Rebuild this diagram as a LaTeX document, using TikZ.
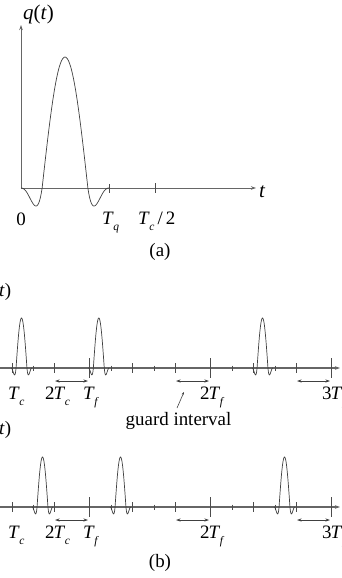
\documentclass[tikz,border=0pt]{standalone}
\usepackage{fontspec}
\setmainfont{Liberation Serif}
\usetikzlibrary{arrows.meta}
\newcommand\Tlab[2]{\textit{#1}\kern-0.5pt\raisebox{-0.35em}{\fontsize{11.5}{12}\selectfont\textit{#2}}}
% #1 centre x, #2 half width, #3 baseline y, #4 height
\newcommand\pulseshape[4]{%
  \draw[pulseline]
    plot[domain=0.001:1,samples=25,smooth] ({#1-#2*(0.52+0.48*(1-\x))},{#3+#4*1.1*(1-\x)*(\x)^2.45})
    -- plot[domain=-0.52:0.52,samples=41,smooth] ({#1+#2*\x},{#3-#4*cos(173.08*\x)})
    -- plot[domain=0:0.999,samples=25,smooth] ({#1+#2*(0.52+0.48*\x)},{#3+#4*1.1*\x*(1-\x)^2.45});}
\begin{document}
\begin{tikzpicture}[x=1bp,y=-1bp,
  pulseline/.style={draw=black!75, line width=0.7bp},
  axisline/.style={draw=black!60, line width=0.9bp, -{Stealth[length=5bp,width=3.5bp]}},
  tickline/.style={draw=black!70, line width=0.7bp},
  guardarrow/.style={draw=black!75, line width=0.7bp, {Stealth[length=4.5bp,width=3bp]}-{Stealth[length=4.5bp,width=3bp]}},
  txt/.style={font=\fontsize{19}{22}\selectfont, inner sep=0pt, text=black},
  bigtxt/.style={font=\fontsize{21}{24}\selectfont, inner sep=0pt, text=black}]
\useasboundingbox (0,0) rectangle (341,578);
% ---------- (a) ----------
\coordinate (aO) at (21,188);
\coordinate (aY) at (21,25);
\coordinate (aX) at (256,188);
\draw[axisline] (aO) -- (aY);
\draw[axisline] (aO) -- (aX);
\pulseshape{65}{44}{188}{131}
\draw[tickline] (109,184) -- (109,193);
\draw[tickline] (155,183) -- (155,193);
\node[bigtxt, anchor=base west] (qlab) at (23,20) {\textit{q}(\textit{t})};
\node[bigtxt, anchor=base west] (tlab) at (259,197) {\textit{t}};
\node[txt, anchor=base] (zero) at (21,225) {0};
\node[txt, anchor=base west] (Tq) at (102,224) {\Tlab{T}{q}};
\node[txt, anchor=base west] (Tc2) at (138,224) {\Tlab{T}{c}\,/\,2};
\node[txt] (alab) at (160,252) {(a)};
% ---------- (b) ----------
\foreach \yy/\p/\q/\r/\nm in {368/12/89.3/253/one, 507/33/111/275/two}{
  \coordinate (L\nm) at (0,\yy);
  \coordinate (R\nm) at (340,\yy);
  \draw[axisline, line width=1.1bp] (L\nm) -- (R\nm);
  \foreach \t in {12,54,132.7,175.3,253,296.7}
    \draw[tickline] (\t,\yy-5) -- (\t,\yy+5);
  \foreach \t in {33,111,154.3,232,275}
    \draw[tickline] (\t,\yy-2.5) -- (\t,\yy+2.5);
  \foreach \t in {89.3,210,331}
    \draw[tickline] (\t,\yy-10) -- (\t,\yy+10);
  \pulseshape{\p+9.5}{10.5}{\yy}{50}
  \pulseshape{\q+9.5}{10.5}{\yy}{50}
  \pulseshape{\r+9.5}{10.5}{\yy}{50}
  \foreach \a/\b [count=\i] in {55/88,176/209,297/330}{
    \coordinate (g\nm s\i) at (\a,\yy+13);
    \coordinate (g\nm e\i) at (\b,\yy+13);
    \draw[guardarrow] (g\nm s\i) -- (g\nm e\i);
  }
  \node[txt, anchor=base west] (Tc\nm) at (8,\yy+31) {\Tlab{T}{c}};
  \node[txt, anchor=base west] (TTc\nm) at (45,\yy+31) {2\kern-1pt\Tlab{T}{c}};
  \node[txt, anchor=base west] (Tf\nm) at (83,\yy+31) {\Tlab{T}{f}};
  \node[txt, anchor=base west] (TTf\nm) at (200,\yy+31) {2\kern-1pt\Tlab{T}{f}};
  \node[txt, anchor=base west] (TTTf\nm) at (322,\yy+31) {3\kern-1pt\Tlab{T}{f}};
}
\node[txt, anchor=base west] (st1) at (-1,296) {\textit{t})};
\node[txt, anchor=base west] (st2) at (-1,434) {\textit{t})};
\node[txt, anchor=base] (guard) at (178.5,425) {guard interval};
\coordinate (gptA) at (177,408);
\coordinate (gptB) at (184,392);
\draw[draw=black!75, line width=0.6bp, -{Stealth[length=3bp,width=2.5bp]}] (gptA) -- (gptB);
\node[txt] (blab) at (160,563) {(b)};
\end{tikzpicture}
\end{document}
